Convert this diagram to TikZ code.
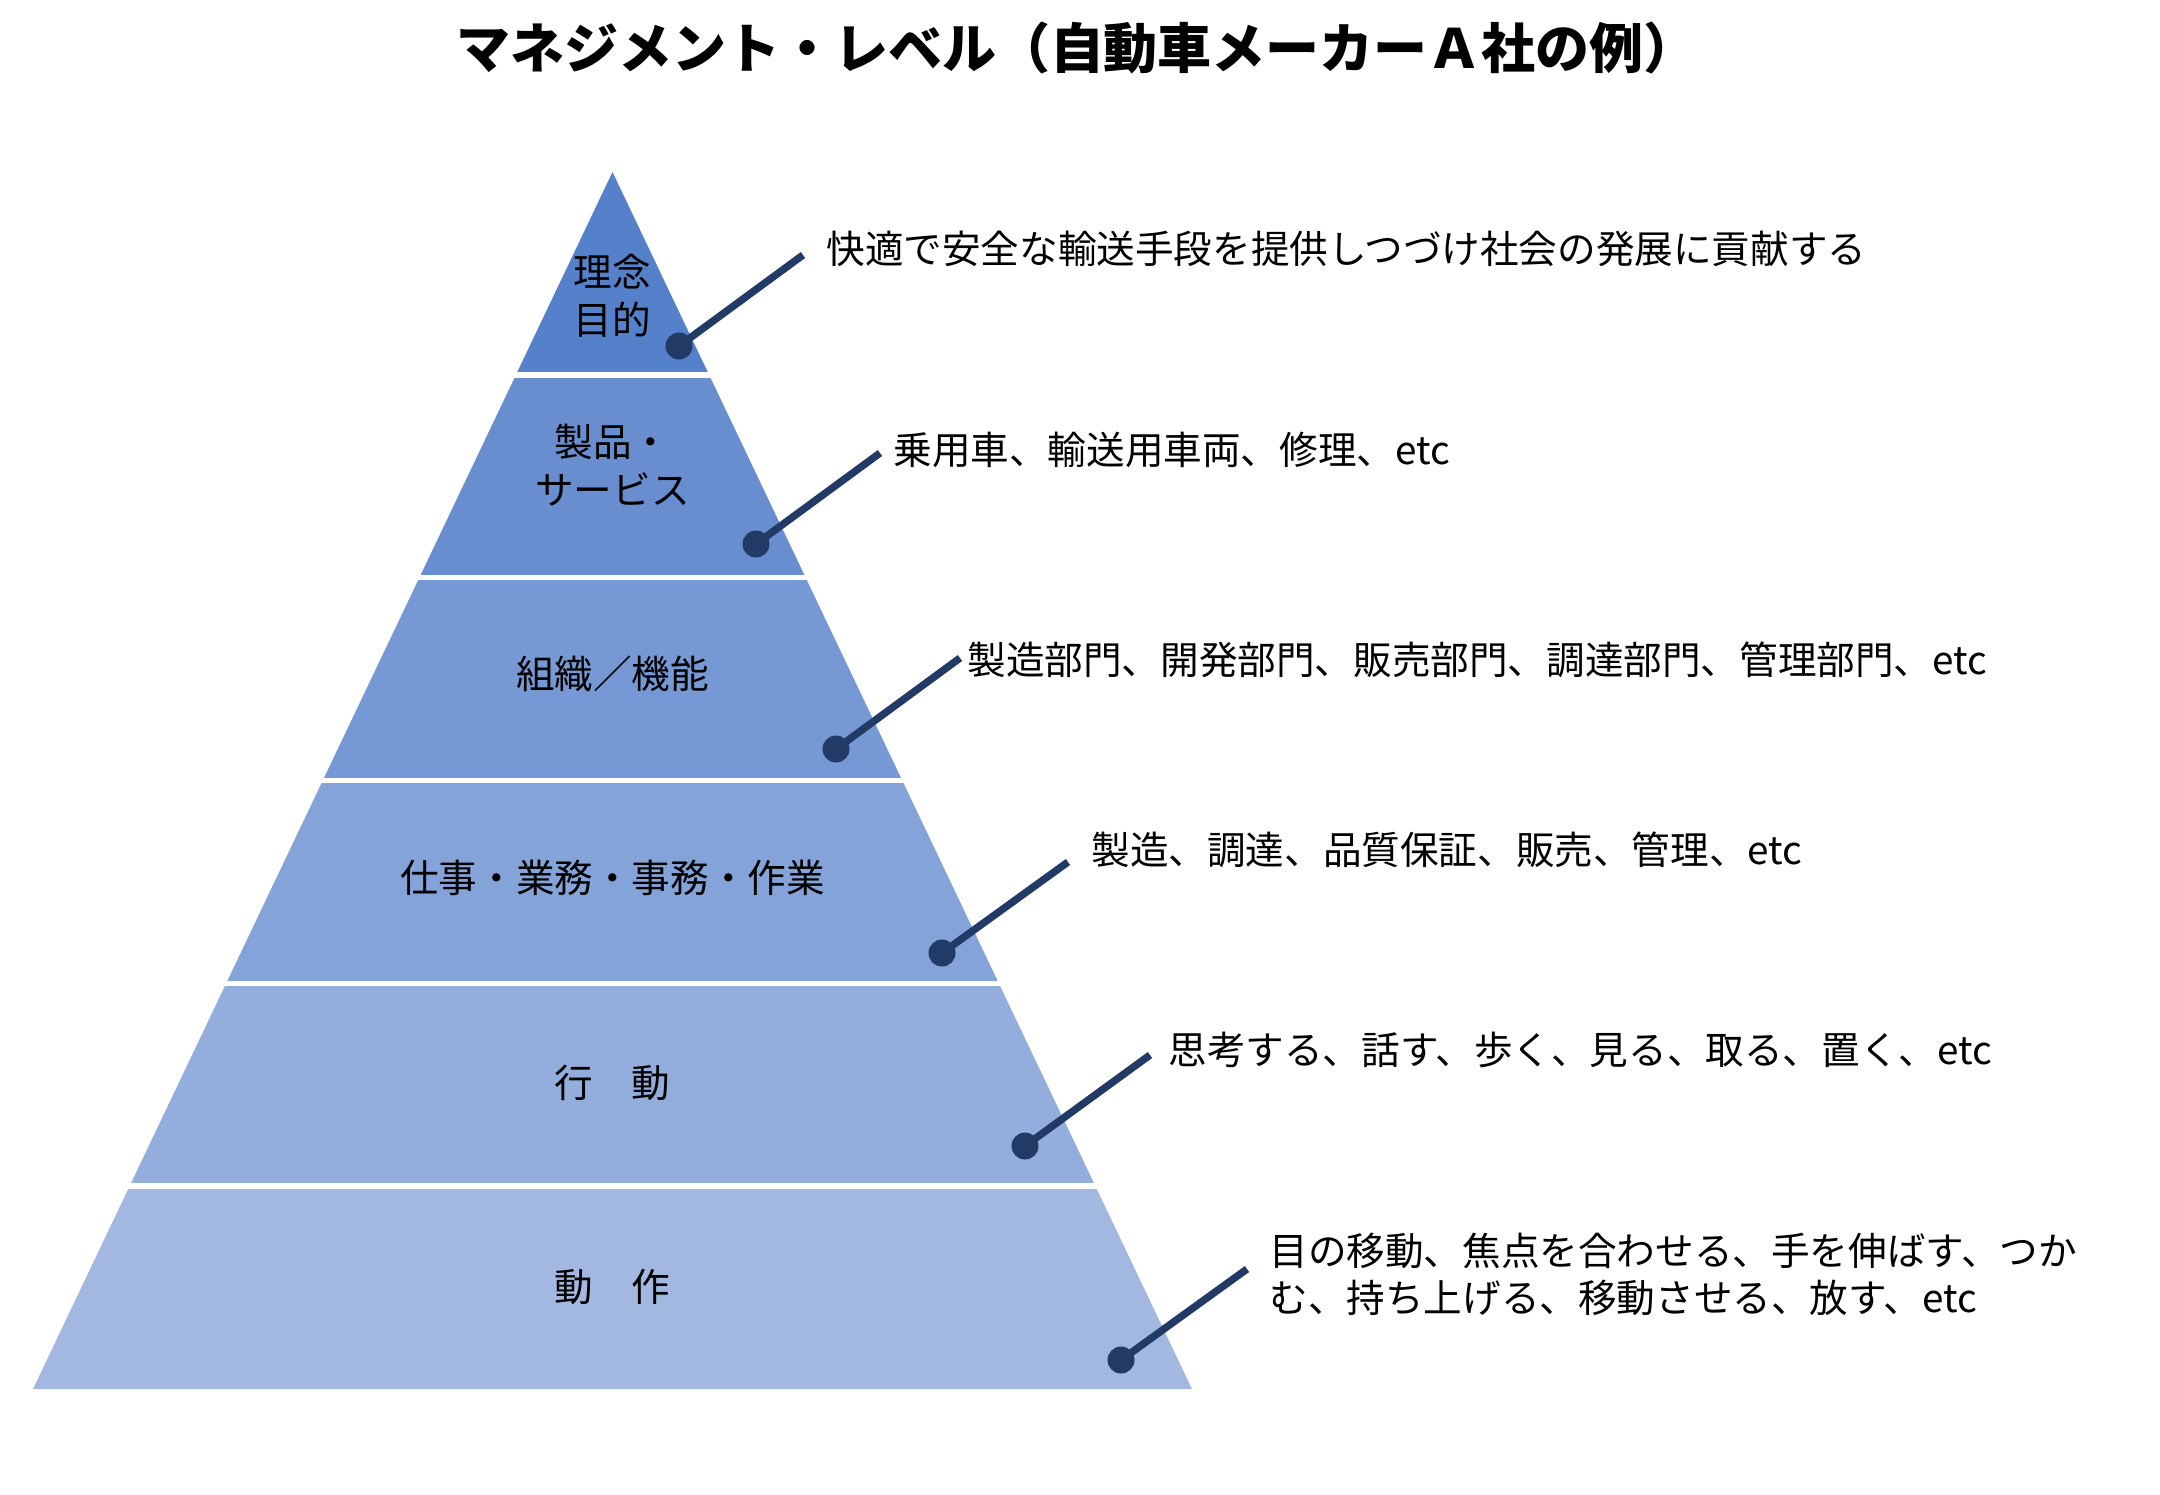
\documentclass[tikz,border=0pt]{standalone}
\usepackage{fontspec}
\setmainfont{Noto Sans CJK JP}
\usetikzlibrary{calc}
\definecolor{bandA}{HTML}{5581CA}
\definecolor{bandB}{HTML}{688ED0}
\definecolor{bandC}{HTML}{7698D4}
\definecolor{bandD}{HTML}{84A3D9}
\definecolor{bandE}{HTML}{93AEDD}
\definecolor{bandF}{HTML}{A2B8E1}
\definecolor{navy}{HTML}{213A66}
\tikzset{
  lvl/.style={inner sep=0pt, align=center, font=\fontsize{19.3}{24}\selectfont},
  desc/.style={inner sep=0pt, anchor=west, align=left, font=\fontsize{19.3}{23.5}\selectfont},
  dotnode/.style={circle, fill=navy, inner sep=0pt, minimum size=13.5pt},
  conn/.style={draw=navy, line width=3.7pt},
  sep/.style={draw=white, line width=2.75pt}
}
\begin{document}
\begin{tikzpicture}[x=0.5pt,y=-0.5pt]
\useasboundingbox (0,0) rectangle (2160,1495);
\coordinate (A) at (612.5,172);
\coordinate (BL) at (33,1389);
\coordinate (BR) at (1192,1389);
% title
\node[inner sep=0pt, font=\fontsize{27}{30}\selectfont\bfseries] (title) at (1077,48) {マネジメント・レベル（自動車メーカーＡ社の例）};
% bands
\foreach \k/\c in {0/bandA,1/bandB,2/bandC,3/bandD,4/bandE,5/bandF}{
  \pgfmathsetmacro{\ta}{\k/6}
  \pgfmathsetmacro{\tb}{(\k+1)/6}
  \fill[\c] ($(A)!\ta!(BL)$) -- ($(A)!\tb!(BL)$) -- ($(A)!\tb!(BR)$) -- ($(A)!\ta!(BR)$) -- cycle;
}
\foreach \k in {1,...,5}{
  \pgfmathsetmacro{\ta}{\k/6}
  \draw[sep] ($(A)!\ta!(BL)+(-10,0)$) -- ($(A)!\ta!(BR)+(10,0)$);
}
% level labels
\node[lvl] (l1) at (612.5,296) {理念\\目的};
\node[lvl] (l2) at (612.5,465) {製品・\\サービス};
\node[lvl] (l3) at (612.5,674) {組織／機能};
\node[lvl] (l4) at (612.5,878) {仕事・業務・事務・作業};
\node[lvl] (l5) at (612.5,1083) {行　動};
\node[lvl] (l6) at (612.5,1287) {動　作};
% connectors
\coordinate (e1) at (803,255);
\coordinate (e2) at (880,453);
\coordinate (e3) at (960,658);
\coordinate (e4) at (1068,862);
\coordinate (e5) at (1150,1055);
\coordinate (e6) at (1247,1269);
\node[dotnode] (d1) at (679,346) {};
\node[dotnode] (d2) at (756,544) {};
\node[dotnode] (d3) at (836,749) {};
\node[dotnode] (d4) at (942,953) {};
\node[dotnode] (d5) at (1025,1146) {};
\node[dotnode] (d6) at (1121,1360) {};
\foreach \i in {1,...,6}{ \draw[conn] (d\i.center) -- (e\i); }
% descriptions
\node[desc] (t1) at (826,249) {快適で安全な輸送手段を提供しつづけ社会の発展に貢献する};
\node[desc] (t2) at (893,450) {乗用車、輸送用車両、修理、etc};
\node[desc] (t3) at (967,660) {製造部門、開発部門、販売部門、調達部門、管理部門、etc};
\node[desc] (t4) at (1091,850) {製造、調達、品質保証、販売、管理、etc};
\node[desc] (t5) at (1168,1050) {思考する、話す、歩く、見る、取る、置く、etc};
\node[desc] (t6) at (1269,1274.5) {目の移動、焦点を合わせる、手を伸ばす、つか\\む、持ち上げる、移動させる、放す、etc};
\end{tikzpicture}
\end{document}
